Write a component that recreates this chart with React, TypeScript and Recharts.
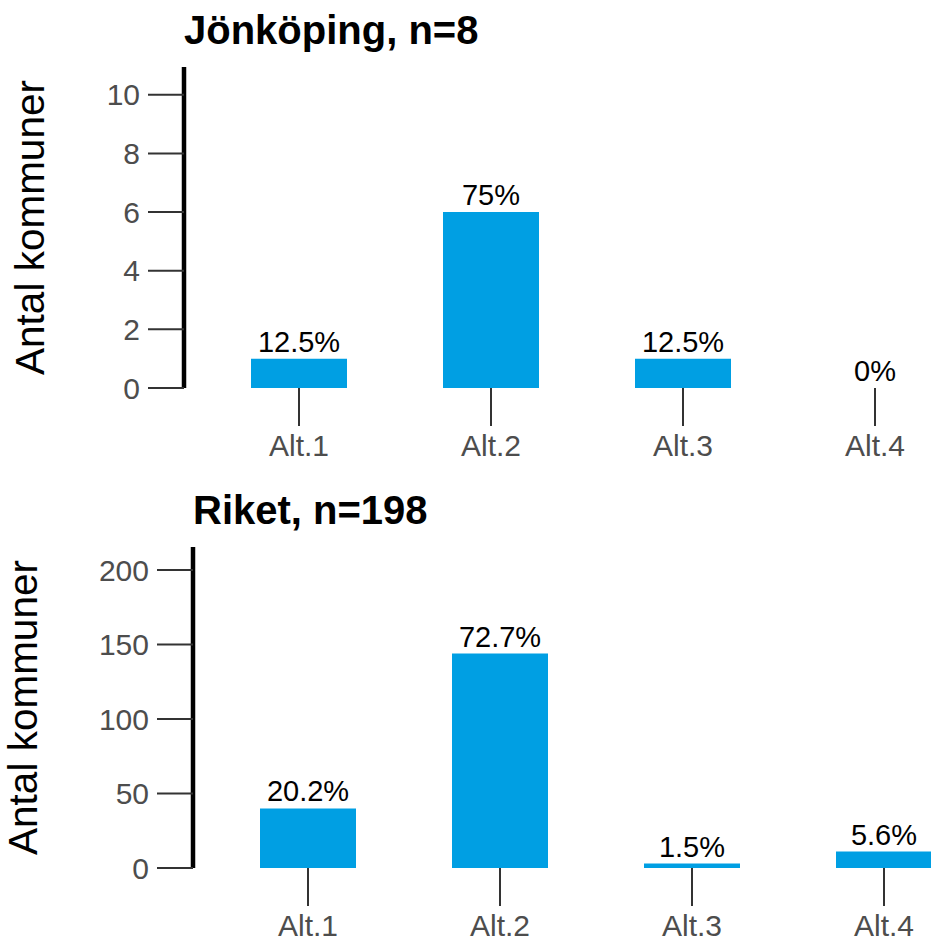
import React from "react";
import { BarChart, Bar, XAxis, YAxis, LabelList } from "recharts";

const categories = ["Alt.1", "Alt.2", "Alt.3", "Alt.4"];
const jonkopingCounts = [1, 6, 1, 0];
const jonkopingPct = ["12.5%", "75%", "12.5%", "0%"];
const riketCounts = [40, 144, 3, 11];
const riketPct = ["20.2%", "72.7%", "1.5%", "5.6%"];
const jonkopingTicks = [0, 2, 4, 6, 8, 10];
const riketTicks = [0, 50, 100, 150, 200];

const FONT = "'Liberation Sans', Arial, sans-serif";
const BLUE = "#009FE3";

function Panel({
  title,
  counts,
  pct,
  ticks,
  max,
  axisWidth,
  labelX,
  top,
}: {
  title: string;
  counts: number[];
  pct: string[];
  ticks: number[];
  max: number;
  axisWidth: number;
  labelX: number;
  top: number;
}) {
  const data = categories.map((c, i) => ({ cat: c, count: counts[i], pct: pct[i] }));
  return (
    <div style={{ position: "absolute", left: 0, top, width: 1000, height: 470 }}>
      <div
        style={{
          position: "absolute",
          left: axisWidth,
          top: 10,
          fontFamily: FONT,
          fontWeight: "bold",
          fontSize: 40,
          lineHeight: 1,
          color: "#000",
          whiteSpace: "nowrap",
        }}
      >
        {title}
      </div>
      <BarChart
        width={axisWidth + 19 + 768}
        height={470}
        data={data}
        margin={{ top: 67, right: 0, left: 0, bottom: 0 }}
        style={{ fontFamily: FONT }}
      >
        <XAxis
          dataKey="cat"
          axisLine={false}
          tickSize={38}
          tickMargin={9}
          height={82}
          padding={{ left: 19, right: 0 }}
          tickLine={{ stroke: "#333333", strokeWidth: 2 }}
          tick={{ fill: "#4D4D4D", fontSize: 30 }}
        />
        <YAxis
          width={axisWidth}
          domain={[0, max]}
          ticks={ticks}
          allowDataOverflow
          tickSize={36}
          tickMargin={8}
          axisLine={{ stroke: "#000", strokeWidth: 4.5 }}
          tickLine={{ stroke: "#333333", strokeWidth: 2 }}
          tick={{ fill: "#4D4D4D", fontSize: 30 }}
          label={{
            content: (props: any) => {
              const vb = props.viewBox || {};
              const cy = vb.y + vb.height / 2;
              return (
                <text
                  x={labelX}
                  y={cy}
                  transform={`rotate(-90 ${labelX} ${cy})`}
                  textAnchor="middle"
                  fontSize={40.5}
                  fill="#000"
                  fontFamily={FONT}
                >
                  Antal kommuner
                </text>
              );
            },
          }}
        />
        <Bar
          dataKey="count"
          fill={BLUE}
          barSize={96}
          minPointSize={0.01}
          isAnimationActive={false}
        >
          <LabelList
            dataKey="pct"
            position="top"
            offset={7}
            fill="#000"
            fontSize={29}
            fontFamily={FONT}
          />
        </Bar>
      </BarChart>
    </div>
  );
}

export default function App() {
  return (
    <div
      style={{
        position: "absolute",
        left: 0,
        top: 0,
        width: 931,
        height: 943,
        overflow: "hidden",
        background: "#fff",
      }}
    >
      <Panel
        title="Jönköping, n=8"
        counts={jonkopingCounts}
        pct={jonkopingPct}
        ticks={jonkopingTicks}
        max={10.95}
        axisWidth={184}
        labelX={44}
        top={0}
      />
      <Panel
        title="Riket, n=198"
        counts={riketCounts}
        pct={riketPct}
        ticks={riketTicks}
        max={215.5}
        axisWidth={193}
        labelX={37}
        top={480}
      />
    </div>
  );
}
